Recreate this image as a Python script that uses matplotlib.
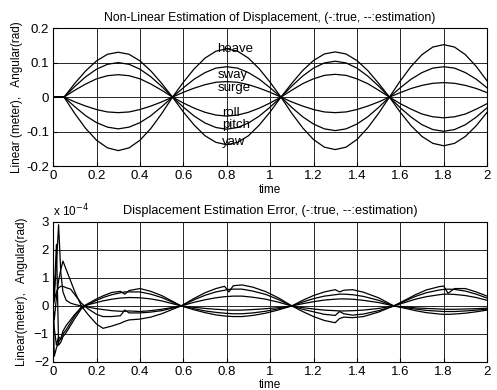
import matplotlib
matplotlib.use("Agg")
import matplotlib.pyplot as plt

plt.rcParams["font.family"] = ["Liberation Sans", "DejaVu Sans"]

# tiempo del panel superior (paso 0.05)
t = [round(0.05 * i, 2) for i in range(41)]

heave = [0, 0,
         -0.048, -0.091, -0.125, -0.147, -0.155, -0.147, -0.125, -0.091, -0.048, 0,
         0.043, 0.082, 0.113, 0.133, 0.140, 0.133, 0.113, 0.082, 0.043, 0,
         -0.047, -0.089, -0.123, -0.145, -0.152, -0.145, -0.123, -0.089, -0.047, 0,
         0.047, 0.089, 0.123, 0.145, 0.152, 0.145, 0.123, 0.089, 0.047]
sway = [0, 0,
        -0.028, -0.054, -0.074, -0.087, -0.092, -0.087, -0.074, -0.054, -0.028, 0,
        0.027, 0.052, 0.071, 0.084, 0.088, 0.084, 0.071, 0.052, 0.027, 0,
        -0.030, -0.057, -0.078, -0.092, -0.097, -0.092, -0.078, -0.057, -0.030, 0,
        0.027, 0.052, 0.071, 0.084, 0.088, 0.084, 0.071, 0.052, 0.027]
surge = [0, 0,
         -0.014, -0.026, -0.036, -0.043, -0.045, -0.043, -0.036, -0.026, -0.014, 0,
         0.014, 0.026, 0.036, 0.043, 0.045, 0.043, 0.036, 0.026, 0.014, 0,
         -0.014, -0.026, -0.036, -0.043, -0.045, -0.043, -0.036, -0.026, -0.014, 0,
         0.013, 0.025, 0.034, 0.040, 0.042, 0.040, 0.034, 0.025, 0.013]
roll = [0, 0,
        0.020, 0.038, 0.053, 0.062, 0.065, 0.062, 0.053, 0.038, 0.020, 0,
        -0.017, -0.032, -0.044, -0.052, -0.055, -0.052, -0.044, -0.032, -0.017, 0,
        0.020, 0.039, 0.053, 0.063, 0.066, 0.063, 0.053, 0.039, 0.020, 0,
        -0.019, -0.035, -0.049, -0.057, -0.060, -0.057, -0.049, -0.035, -0.019]
pitch = [0, 0,
         0.031, 0.059, 0.081, 0.095, 0.100, 0.095, 0.081, 0.059, 0.031, 0,
         -0.029, -0.055, -0.075, -0.088, -0.093, -0.088, -0.075, -0.055, -0.029, 0,
         0.032, 0.061, 0.084, 0.099, 0.104, 0.099, 0.084, 0.061, 0.032, 0,
         -0.031, -0.058, -0.080, -0.094, -0.099, -0.094, -0.080, -0.058, -0.031]
yaw = [0, 0,
       0.040, 0.076, 0.105, 0.124, 0.130, 0.124, 0.105, 0.076, 0.040, 0,
       -0.043, -0.081, -0.112, -0.131, -0.138, -0.131, -0.112, -0.081, -0.043, 0,
       0.040, 0.077, 0.106, 0.125, 0.131, 0.125, 0.106, 0.077, 0.040, 0,
       -0.044, -0.083, -0.114, -0.134, -0.141, -0.134, -0.114, -0.083, -0.044]

nombres = ["heave", "sway", "surge", "roll", "pitch", "yaw"]
pos_nombres = [(0.755, 0.138), (0.76, 0.064), (0.76, 0.026),
               (0.78, -0.045), (0.78, -0.081), (0.78, -0.131)]

# error de estimacion (unidades de 1e-4)
t_err = [0, 0.005, 0.015, 0.025, 0.035, 0.045, 0.06, 0.08, 0.1, 0.13,
         0.16, 0.2, 0.23, 0.27, 0.31, 0.33, 0.35, 0.4, 0.45, 0.5, 0.59,
         0.65, 0.7, 0.75, 0.79, 0.81, 0.83, 0.87, 0.92, 0.98, 1.04, 1.1,
         1.15, 1.2, 1.25, 1.3, 1.32, 1.34, 1.38, 1.43, 1.5, 1.57,
         1.62, 1.67, 1.72, 1.78, 1.8, 1.82, 1.85, 1.9, 1.95, 2.0]

err_a = [0, -1.8, -1.5, -1.3, -1.15, -1.0, -0.85, -0.6, -0.35, -0.05,
         0.08, 0.25, 0.36, 0.48, 0.52, 0.42, 0.55, 0.62, 0.52, 0.37, 0,
         -0.14, -0.24, -0.32, -0.36, -0.37, -0.38, -0.38, -0.34, -0.26, -0.14, 0,
         0.2, 0.37, 0.5, 0.58, 0.5, 0.56, 0.58, 0.49, 0.29, 0,
         -0.08, -0.17, -0.24, -0.29, -0.3, -0.3, -0.29, -0.26, -0.21, -0.15]
err_b = [0, 0.5, 2.2, -1.4, -1.3, -1.1, -0.95, -0.7, -0.45, -0.1,
         0.05, 0.2, 0.3, 0.4, 0.47, 0.5, 0.5, 0.5, 0.42, 0.3, 0,
         -0.1, -0.18, -0.23, -0.26, -0.27, -0.28, -0.28, -0.25, -0.19, -0.1, 0,
         0.14, 0.26, 0.35, 0.4, 0.42, 0.42, 0.4, 0.34, 0.2, 0,
         -0.06, -0.11, -0.16, -0.19, -0.2, -0.2, -0.2, -0.18, -0.15, -0.12]
err_c = [0, -0.8, -1.4, -1.1, -1.2, -0.9, -0.7, -0.5, -0.3, -0.05,
         0.04, 0.12, 0.18, 0.24, 0.28, 0.29, 0.3, 0.29, 0.25, 0.18, 0,
         -0.05, -0.09, -0.12, -0.14, -0.15, -0.15, -0.15, -0.13, -0.1, -0.06, 0,
         0.08, 0.15, 0.21, 0.24, 0.25, 0.25, 0.24, 0.2, 0.12, 0,
         -0.03, -0.07, -0.09, -0.11, -0.12, -0.12, -0.12, -0.11, -0.1, -0.08]
err_d = [0, 0.3, 1.5, 2.9, 1.2, 0.5, 0.2, 0.1, 0.05, 0.0,
         -0.04, -0.1, -0.13, -0.17, -0.19, -0.19, -0.18, -0.2, -0.17, -0.12, 0,
         0.13, 0.22, 0.29, 0.33, 0.34, 0.35, 0.35, 0.31, 0.24, 0.13, 0,
         -0.06, -0.11, -0.15, -0.17, -0.18, -0.18, -0.17, -0.15, -0.09, 0,
         0.12, 0.24, 0.33, 0.4, 0.42, 0.42, 0.41, 0.37, 0.3, 0.2]
err_e = [0, 0.2, 0.5, 0.65, 0.7, 0.7, 0.65, 0.6, 0.4, 0.1,
         -0.1, -0.3, -0.38, -0.38, -0.35, -0.15, -0.25, -0.25, -0.22, -0.17, 0,
         0.22, 0.38, 0.5, 0.56, 0.59, 0.6, 0.6, 0.53, 0.41, 0.22, 0,
         -0.12, -0.21, -0.3, -0.34, -0.2, -0.28, -0.33, -0.29, -0.17, 0,
         0.17, 0.34, 0.47, 0.57, 0.59, 0.6, 0.59, 0.53, 0.42, 0.28]
err_f = [0, -0.5, 0.3, 0.9, 1.3, 1.6, 1.3, 0.9, 0.5, 0.0,
         -0.3, -0.65, -0.8, -0.72, -0.62, -0.55, -0.5, -0.47, -0.4, -0.28, 0,
         0.27, 0.47, 0.62, 0.7, 0.5, 0.72, 0.75, 0.67, 0.51, 0.28, 0,
         -0.2, -0.38, -0.52, -0.6, -0.45, -0.4, -0.42, -0.38, -0.22, 0,
         0.2, 0.4, 0.57, 0.69, 0.71, 0.45, 0.62, 0.62, 0.5, 0.35]

xticks = [0, 0.2, 0.4, 0.6, 0.8, 1, 1.2, 1.4, 1.6, 1.8, 2]
xtick_labels = ["0", "0.2", "0.4", "0.6", "0.8", "1", "1.2", "1.4", "1.6", "1.8", "2"]

fig = plt.figure(figsize=(4.97, 3.90), dpi=100)
ax1 = fig.add_axes([0.107, 0.574, 0.873, 0.354])
ax2 = fig.add_axes([0.107, 0.072, 0.873, 0.359])

for serie in [heave, sway, surge, roll, pitch, yaw]:
    ax1.plot(t, serie, color="black", lw=0.9)
for nombre, (x, y) in zip(nombres, pos_nombres):
    ax1.text(x, y, nombre, fontsize=9.5, va="center", ha="left")

ax1.set_xlim(0, 2)
ax1.set_ylim(-0.2, 0.2)
ax1.set_yticks([-0.2, -0.1, 0, 0.1, 0.2])
ax1.set_yticklabels(["-0.2", "-0.1", "0", "0.1", "0.2"])
ax1.set_title("Non-Linear Estimation of Displacement, (-:true, --:estimation)",
              fontsize=8.8, pad=5)
ax1.set_ylabel("Linear (meter),   Angular(rad)", fontsize=8.5, labelpad=2)

for serie in [err_a, err_b, err_c, err_d, err_e, err_f]:
    ax2.plot(t_err, serie, color="black", lw=0.9)

ax2.set_xlim(0, 2)
ax2.set_ylim(-2, 3)
ax2.set_yticks([-2, -1, 0, 1, 2, 3])
ax2.set_title("Displacement Estimation Error, (-:true, --:estimation)",
              fontsize=9.2, pad=6)
ax2.set_ylabel("Linear(meter),   Angular(rad)", fontsize=8.5, labelpad=4)
ax2.text(0.0, 1.02, r"x 10$^{-4}$", transform=ax2.transAxes, fontsize=8.5,
         ha="left", va="bottom")

for ax in [ax1, ax2]:
    ax.set_xticks(xticks)
    ax.set_xticklabels(xtick_labels)
    ax.set_xlabel("time", fontsize=8.5, labelpad=1)
    ax.tick_params(labelsize=9.5, direction="in", length=3, pad=3)
    ax.grid(True, color="0.15", lw=0.7)
    for s in ax.spines.values():
        s.set_linewidth(0.8)

fig.savefig("out.png", dpi=100)
